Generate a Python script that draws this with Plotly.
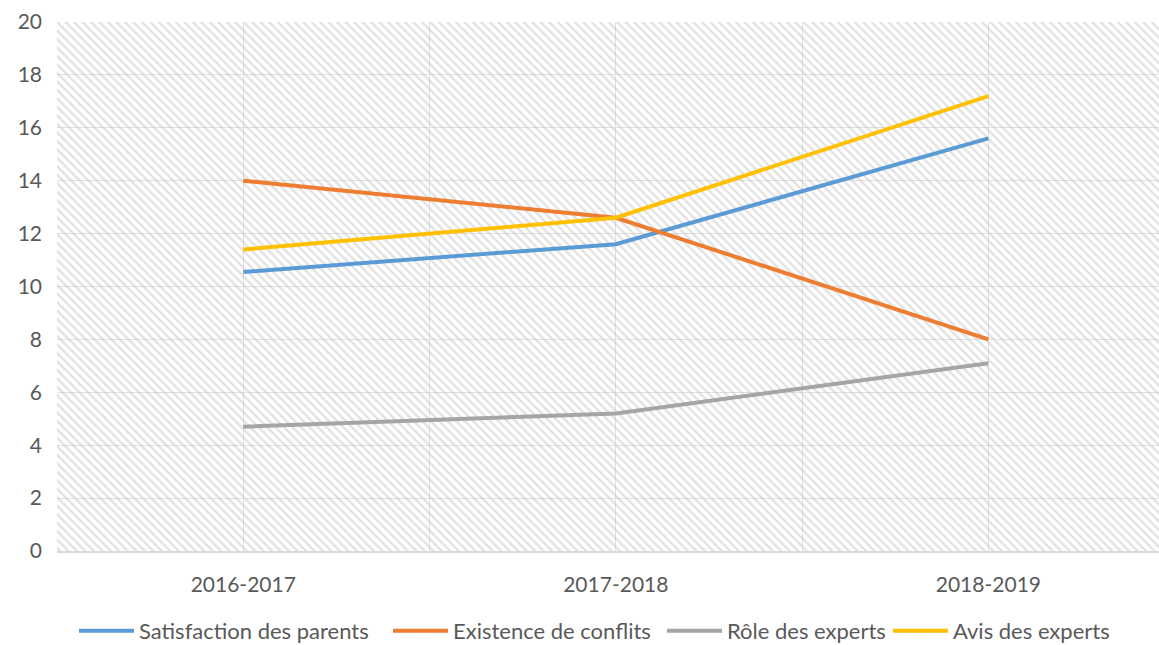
import plotly.graph_objects as go

categories = ["2016-2017", "2017-2018", "2018-2019"]
series_names = ["Satisfaction des parents", "Existence de conflits", "Rôle des experts", "Avis des experts"]
satisfaction = [10.55, 11.6, 15.6]
conflits = [14.0, 12.6, 8.0]
role = [4.7, 5.2, 7.1]
avis = [11.4, 12.6, 17.2]
colors = ["#5B9BD5", "#ED7D31", "#A5A5A5", "#FFC000"]
legend_left_px = [77, 391, 665, 891]

xpos = list(range(len(categories)))
fig = go.Figure()

# hatched plot-area background
fig.add_trace(go.Scatter(
    x=[-0.5, 2.6, 2.6, -0.5, -0.5], y=[0, 0, 20, 20, 0],
    mode="none", fill="toself", fillcolor="rgba(0,0,0,0)",
    fillpattern=dict(shape="\\", fgcolor="#c4c4c4", bgcolor="rgba(0,0,0,0)", size=6, solidity=0.4),
    hoverinfo="skip", showlegend=False))

legend_keys = ["legend", "legend2", "legend3", "legend4"]
for name, vals, c, lk in zip(series_names, [satisfaction, conflits, role, avis], colors, legend_keys):
    fig.add_trace(go.Scatter(x=xpos, y=vals, mode="lines", name=name, legend=lk,
                             line=dict(color=c, width=4)))

L, R, T, B = 57, 0, 22, 94
W, H = 1159, 645
pw, ph = W - L - R, H - T - B
leg_y = -(631 - (H - B)) / ph
legend_layout = {}
for lk, px in zip(legend_keys, legend_left_px):
    legend_layout[lk] = dict(orientation="h", x=(px - L - 3) / pw, xanchor="left",
                             y=leg_y, yanchor="middle", itemwidth=55,
                             font=dict(size=22, color="#595959"),
                             bgcolor="rgba(0,0,0,0)", borderwidth=0)

fig.update_layout(
    width=W, height=H,
    margin=dict(l=L, r=R, t=T, b=B, autoexpand=False),
    plot_bgcolor="white", paper_bgcolor="white",
    font=dict(family="Lato, Carlito, sans-serif", size=21, color="#595959"),
    showlegend=True,
    **legend_layout,
)
fig.update_xaxes(
    range=[-0.5, 2.458], tickvals=xpos, ticktext=categories,
    showgrid=False, zeroline=False, automargin=False,
    showline=True, linecolor="#d9d9d9", linewidth=2,
    ticks="", ticklabelstandoff=14,
    minor=dict(tickvals=[-0.5, 0, 0.5, 1, 1.5, 2, 2.5], showgrid=True, gridcolor="#e0e0e0", gridwidth=1),
)
fig.update_yaxes(
    range=[0, 20], dtick=2, showgrid=True, gridcolor="#e0e0e0", gridwidth=1,
    zeroline=False, showline=False, ticks="", ticklabelstandoff=14, automargin=False,
)

fig.write_html("out.html", config={"displayModeBar": False},
               post_script="document.body.style.margin='0';document.body.style.overflow='hidden';")
